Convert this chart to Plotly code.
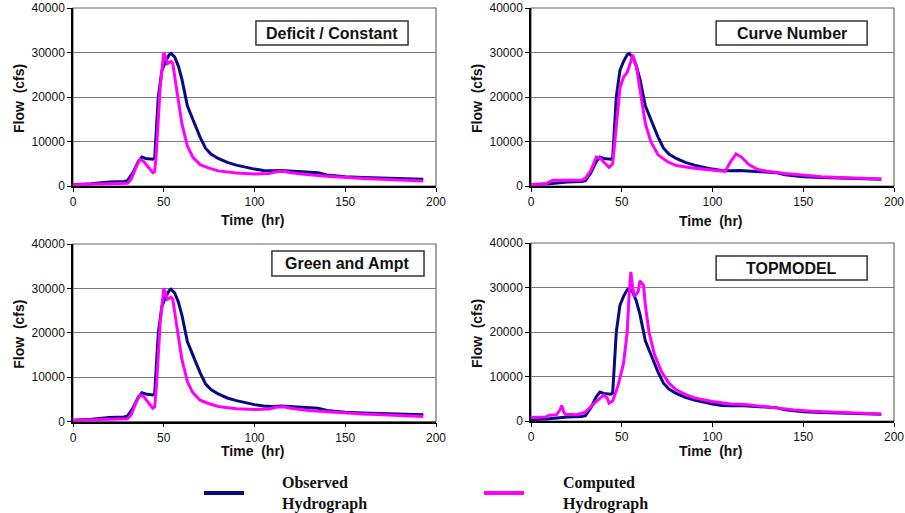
import plotly.graph_objects as go

# ---------------- data ----------------
panel_titles = ["Deficit / Constant", "Curve Number", "Green and Ampt", "TOPMODEL"]
x_ticks = [0, 50, 100, 150, 200]
y_ticks = [0, 10000, 20000, 30000, 40000]
y_tick_labels = ["0", "10000", "20000", "30000", "40000"]

obs_t = [0, 10, 20, 28, 30, 33, 36, 38, 40, 44, 45, 47, 49, 51, 53, 54, 56, 58, 60, 63, 66,
         70, 73, 76, 80, 85, 90, 95, 100, 105, 110, 115, 120, 125, 130, 135, 140, 145, 150,
         160, 170, 180, 193]
obs_q = [300, 500, 900, 1000, 1200, 3000, 5500, 6500, 6200, 6000, 6300, 20000, 26000, 28000,
         29500, 29800, 29000, 27000, 24000, 18000, 15000, 11000, 8500, 7200, 6200, 5300, 4700,
         4200, 3800, 3500, 3400, 3500, 3400, 3300, 3200, 3000, 2500, 2300, 2100, 1900, 1800,
         1600, 1500]

dc_t = [0, 10, 20, 30, 32, 35, 37, 39, 42, 44, 45, 46, 48, 50, 51, 52, 54, 55, 57, 60, 63,
        66, 70, 75, 80, 90, 100, 108, 112, 116, 120, 130, 140, 150, 160, 170, 180, 193]
dc_q = [300, 400, 500, 600, 1500, 4500, 6000, 5500, 4000, 3000, 3200, 8000, 22000, 30000,
        29000, 27500, 28000, 27500, 22000, 14000, 9000, 6500, 4800, 4000, 3400, 2900, 2700,
        2800, 3200, 3300, 3000, 2500, 2200, 1900, 1700, 1500, 1300, 1100]

cn_t = [0, 8, 12, 20, 28, 30, 33, 36, 38, 41, 43, 45, 47, 49, 51, 53, 55, 56, 58, 60, 63, 66,
        70, 75, 80, 90, 100, 107, 110, 113, 116, 120, 125, 130, 140, 150, 160, 170, 180, 193]
cn_q = [300, 500, 1300, 1300, 1300, 1700, 3500, 6500, 6300, 5000, 4200, 5000, 13000, 22000,
        24500, 25500, 28000, 29500, 27000, 22000, 14000, 10000, 7000, 5500, 4600, 4000, 3600,
        3300, 5500, 7200, 6500, 4800, 3700, 3300, 2800, 2400, 2100, 1900, 1700, 1600]

ga_t = [0, 10, 20, 30, 32, 35, 37, 39, 42, 44, 45, 46, 48, 50, 51, 52, 54, 55, 57, 60, 63,
        66, 70, 75, 80, 90, 100, 108, 112, 116, 120, 130, 140, 150, 160, 170, 180, 193]
ga_q = [300, 400, 500, 600, 1500, 4500, 6000, 5600, 4000, 3000, 3300, 8000, 22000, 30000,
        29000, 27500, 28000, 27500, 22000, 14000, 9000, 6500, 4800, 4000, 3400, 2900, 2700,
        2800, 3200, 3300, 3000, 2500, 2200, 1900, 1700, 1500, 1300, 1100]

tm_t = [0, 8, 10, 14, 16, 17, 18, 19, 25, 30, 35, 38, 40, 42, 43, 45, 48, 51, 53, 54, 55, 56,
        57, 59, 60, 62, 63, 65, 68, 72, 76, 80, 85, 90, 100, 110, 118, 125, 135, 145, 155,
        165, 175, 185, 193]
tm_q = [800, 900, 1300, 1400, 2500, 3500, 2000, 1500, 1400, 2000, 4000, 5000, 5800, 5200,
        4000, 4500, 8000, 13000, 20000, 28000, 33500, 30000, 28000, 29000, 31500, 30500, 26000,
        20000, 15000, 11000, 8500, 7000, 6000, 5200, 4400, 3800, 3700, 3400, 2900, 2500, 2200,
        2000, 1800, 1700, 1600]

computed = [(dc_t, dc_q), (cn_t, cn_q), (ga_t, ga_q), (tm_t, tm_q)]

OBS_COLOR = "#0a0a80"
CMP_COLOR = "#ff00ff"
W, H = 905, 513

# panel pixel boxes: (left, right, top, bottom)
px_boxes = [(73, 436, 8, 186), (531, 894, 8, 186), (73, 436, 244, 421.5), (531, 894, 243, 421)]
# title box in axis-domain fractions: (x0, x1, y0, y1)
title_boxes = [(0.504, 0.923, 0.792, 0.927), (0.510, 0.926, 0.792, 0.927),
               (0.548, 0.967, 0.820, 0.961), (0.510, 0.926, 0.792, 0.927)]
xtitle_py = [220, 221, 451, 451]

fig = go.Figure()
layout = dict(width=W, height=H, margin=dict(l=0, r=0, t=0, b=0, autoexpand=False),
              paper_bgcolor="white", plot_bgcolor="white", showlegend=False,
              font=dict(family="Liberation Sans, Arial, sans-serif", size=12, color="#111"))
annotations = []
shapes = []

for i in range(4):
    n = i + 1
    xa = "x" if n == 1 else f"x{n}"
    ya = "y" if n == 1 else f"y{n}"
    l, r, t, b = px_boxes[i]
    layout["xaxis" if n == 1 else f"xaxis{n}"] = dict(
        domain=[l / W, r / W], anchor=ya, range=[0, 200], tickvals=x_ticks,
        automargin=False,
        showgrid=False, zeroline=False, showline=True, linecolor="black", linewidth=1.5,
        ticks="outside", ticklen=4, tickcolor="black", tickfont=dict(size=12))
    layout["yaxis" if n == 1 else f"yaxis{n}"] = dict(
        domain=[1 - b / H, 1 - t / H], anchor=xa, range=[0, 40000], tickvals=y_ticks,
        ticktext=y_tick_labels, automargin=False,
        showgrid=True, gridcolor="#7a7a7a", gridwidth=1, zeroline=False, showline=True,
        linecolor="black", linewidth=1.5, ticks="outside", ticklen=4, tickcolor="black",
        tickfont=dict(size=12))

    ct, cq = computed[i]
    fig.add_trace(go.Scatter(x=obs_t, y=obs_q, mode="lines", xaxis=xa, yaxis=ya,
                             line=dict(color=OBS_COLOR, width=3), name="Observed Hydrograph"))
    fig.add_trace(go.Scatter(x=ct, y=cq, mode="lines", xaxis=xa, yaxis=ya,
                             line=dict(color=CMP_COLOR, width=3), name="Computed Hydrograph"))

    # plot area border (right/top in gray)
    shapes.append(dict(type="rect", xref=f"{xa} domain", yref=f"{ya} domain",
                       x0=0, x1=1, y0=0, y1=1, line=dict(color="#666", width=1.2), layer="below"))
    # title box
    bx0, bx1, by0, by1 = title_boxes[i]
    shapes.append(dict(type="rect", xref=f"{xa} domain", yref=f"{ya} domain",
                       x0=bx0, x1=bx1, y0=by0, y1=by1, fillcolor="white",
                       line=dict(color="#333", width=1.5), layer="above"))
    annotations.append(dict(text=f"<b>{panel_titles[i]}</b>", xref=f"{xa} domain",
                            yref=f"{ya} domain", x=(bx0 + bx1) / 2, y=(by0 + by1) / 2,
                            xanchor="center", yanchor="middle", showarrow=False,
                            font=dict(size=16, color="#111")))
    # axis titles
    annotations.append(dict(text="<b>Time  (hr)</b>", xref="paper", yref="paper",
                            x=((l + r) / 2 - 2) / W, y=1 - xtitle_py[i] / H,
                            xanchor="center", yanchor="middle", showarrow=False,
                            font=dict(size=14, color="#111")))
    annotations.append(dict(text="<b>Flow  (cfs)</b>", xref="paper", yref="paper",
                            x=(l - 54) / W, y=1 - ((t + b) / 2 + 2) / H, textangle=-90,
                            xanchor="center", yanchor="middle", showarrow=False,
                            font=dict(size=14, color="#111")))

# legend (bottom)
legend_items = [("Observed<br>Hydrograph", OBS_COLOR, 204, 244, 280),
                ("Computed<br>Hydrograph", CMP_COLOR, 484, 524, 561)]
for label, color, lx0, lx1, tx in legend_items:
    shapes.append(dict(type="line", xref="paper", yref="paper", x0=lx0 / W, x1=lx1 / W,
                       y0=1 - 493 / H, y1=1 - 493 / H, line=dict(color=color, width=4)))
    annotations.append(dict(text=f"<b>{label}</b>", xref="paper", yref="paper",
                            x=tx / W, y=1 - 493 / H, xanchor="left", yanchor="middle",
                            align="left", showarrow=False,
                            font=dict(family="Liberation Serif, Times New Roman, serif",
                                      size=16, color="#111")))

layout["annotations"] = annotations
layout["shapes"] = shapes
fig.update_layout(**layout)
fig.write_html("out.html", config={"displayModeBar": False},
               post_script="document.body.style.margin='0';document.body.style.overflow='hidden';")
